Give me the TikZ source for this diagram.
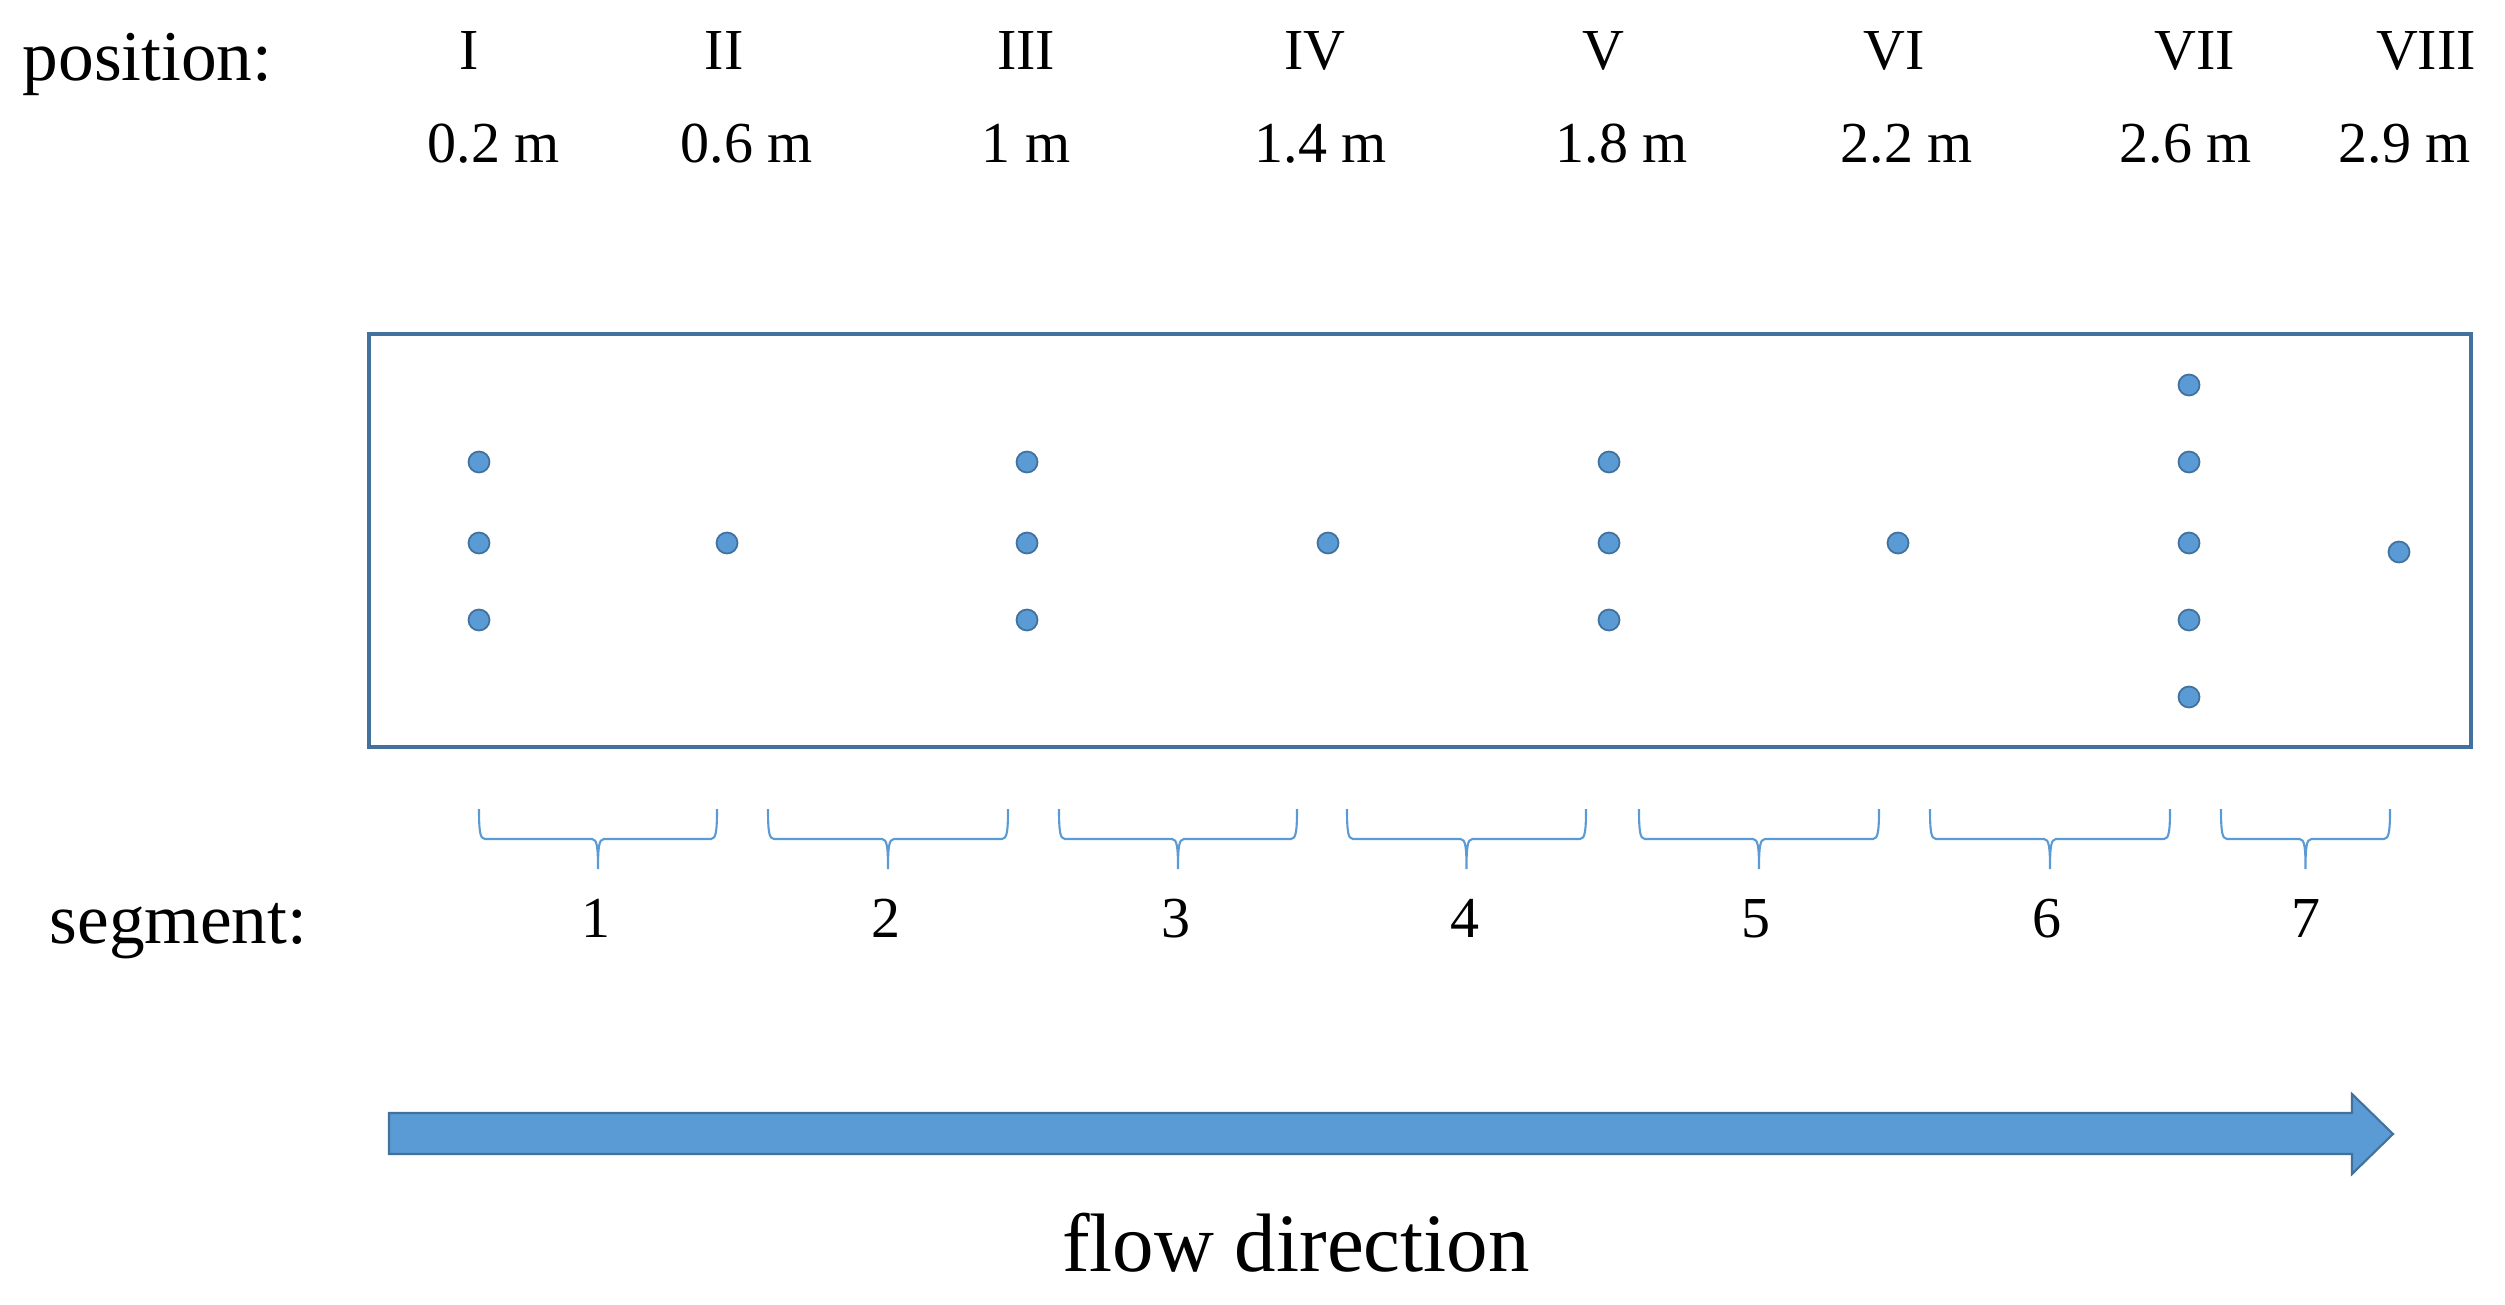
\documentclass[tikz,border=0pt]{standalone}
\usepackage{fontspec}
\setmainfont{Liberation Serif}
\definecolor{waterblue}{HTML}{5B9BD5}
\definecolor{edgeblue}{HTML}{41719C}
\tikzset{
probe/.style = {circle, draw = edgeblue, fill = waterblue, line width = 0.5pt, minimum size = 2.1mm, inner sep = 0pt},
channel/.style = {draw = edgeblue, line width = 1.2pt},
flow arrow/.style = {draw = edgeblue, fill = waterblue, line width = 0.6pt},
tag/.style = {font = \fontsize{16.5}{18}\selectfont, inner sep = 0pt, anchor = base},
heading/.style = {font = \fontsize{20.3}{22}\selectfont, inner sep = 0pt, anchor = base west},
segline/.style = {draw = waterblue, line width = 0.6pt},
}
\tikzset{
pics/seg brace/.style = {
        code = {
        \path[segline] (-#1, 0) .. controls (-#1, -0.22) and (-#1+0.01, -0.30) .. (-#1+0.06, -0.30) -- (-0.06, -0.30) .. controls (-0.01, -0.30) and (0, -0.38) .. (0, -0.60) .. controls (0, -0.38) and (0.01, -0.30) .. (0.06, -0.30) -- (#1-0.06, -0.30) .. controls (#1-0.01, -0.30) and (#1, -0.22) .. (#1, 0);
        }
    }
}

\begin{document}
\begin{tikzpicture}
    \useasboundingbox (0, 0) rectangle (25.05, -13.05);
    % header rows
    \node[heading] (position) at (0.22, -0.81) {position:};
    \node[tag] (I) at (4.69, -0.70) {I};
    \node[tag] (II) at (7.24, -0.70) {II};
    \node[tag] (III) at (10.26, -0.70) {III};
    \node[tag] (IV) at (13.15, -0.70) {IV};
    \node[tag] (V) at (16.03, -0.70) {V};
    \node[tag] (VI) at (18.94, -0.70) {VI};
    \node[tag] (VII) at (21.95, -0.70) {VII};
    \node[tag] (VIII) at (24.26, -0.70) {VIII};
    \node[tag] (d1) at (4.94, -1.63) {0.2 m};
    \node[tag] (d2) at (7.47, -1.63) {0.6 m};
    \node[tag] (d3) at (10.26, -1.63) {1 m};
    \node[tag] (d4) at (13.21, -1.63) {1.4 m};
    \node[tag] (d5) at (16.22, -1.63) {1.8 m};
    \node[tag] (d6) at (19.07, -1.63) {2.2 m};
    \node[tag] (d7) at (21.86, -1.63) {2.6 m};
    \node[tag] (d8) at (24.05, -1.63) {2.9 m};
    % channel and probes
    \path[channel] (3.69, -3.34) rectangle (24.71, -7.47);
    \node[probe] (pI1) at (4.79, -4.62) {};
    \node[probe] (pI2) at (4.79, -5.43) {};
    \node[probe] (pI3) at (4.79, -6.20) {};
    \node[probe] (pII) at (7.27, -5.43) {};
    \node[probe] (pIII1) at (10.27, -4.62) {};
    \node[probe] (pIII2) at (10.27, -5.43) {};
    \node[probe] (pIII3) at (10.27, -6.20) {};
    \node[probe] (pIV) at (13.28, -5.43) {};
    \node[probe] (pV1) at (16.09, -4.62) {};
    \node[probe] (pV2) at (16.09, -5.43) {};
    \node[probe] (pV3) at (16.09, -6.20) {};
    \node[probe] (pVI) at (18.98, -5.43) {};
    \node[probe] (pVII1) at (21.89, -3.85) {};
    \node[probe] (pVII2) at (21.89, -4.62) {};
    \node[probe] (pVII3) at (21.89, -5.43) {};
    \node[probe] (pVII4) at (21.89, -6.20) {};
    \node[probe] (pVII5) at (21.89, -6.97) {};
    \node[probe] (pVIII) at (23.99, -5.52) {};
    % segments
    \draw pic at (5.98, -8.09) {seg brace = 1.19};
    \draw pic at (8.88, -8.09) {seg brace = 1.20};
    \draw pic at (11.78, -8.09) {seg brace = 1.19};
    \draw pic at (14.665, -8.09) {seg brace = 1.195};
    \draw pic at (17.59, -8.09) {seg brace = 1.20};
    \draw pic at (20.50, -8.09) {seg brace = 1.20};
    \draw pic at (23.055, -8.09) {seg brace = 0.845};
    \node[heading] (segment) at (0.49, -9.43) {segment:};
    \node[tag] (s1) at (5.96, -9.37) {1};
    \node[tag] (s2) at (8.86, -9.37) {2};
    \node[tag] (s3) at (11.76, -9.37) {3};
    \node[tag] (s4) at (14.65, -9.37) {4};
    \node[tag] (s5) at (17.56, -9.37) {5};
    \node[tag] (s6) at (20.47, -9.37) {6};
    \node[tag] (s7) at (23.06, -9.37) {7};
    % flow
    \path[flow arrow] (3.89, -11.13) -- (23.52, -11.13) -- (23.52, -10.94) -- (23.93, -11.34) -- (23.52, -11.74) -- (23.52, -11.54) -- (3.89, -11.54) -- cycle;
    \node[tag, font = \fontsize{23.6}{26}\selectfont] (flow) at (12.96, -12.71) {flow direction};
\end{tikzpicture}
\end{document}
